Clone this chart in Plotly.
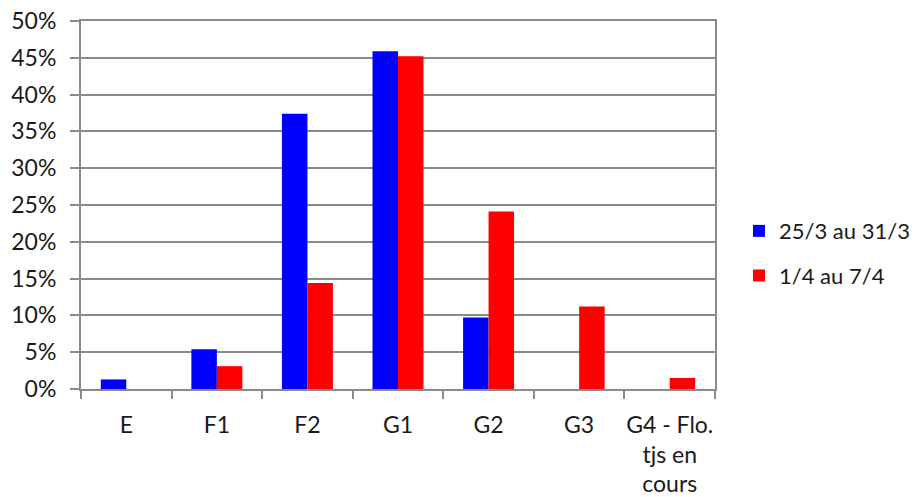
import plotly.graph_objects as go

categories = ["E", "F1", "F2", "G1", "G2", "G3", "G4 - Flo.<br>tjs en<br>cours"]
series1_name = "25/3 au 31/3"
series1_values = [0.013, 0.054, 0.374, 0.459, 0.097, 0.0, 0.0]
series2_name = "1/4 au 7/4"
series2_values = [0.0, 0.031, 0.144, 0.452, 0.241, 0.112, 0.015]
y_tick_values = [0, 0.05, 0.10, 0.15, 0.20, 0.25, 0.30, 0.35, 0.40, 0.45, 0.50]
y_tick_labels = ["0%", "5%", "10%", "15%", "20%", "25%", "30%", "35%", "40%", "45%", "50%"]

FONT = "Lato"
FS = 23
TXT = "#1a1a1a"
GRID = "#8a8a8a"

fig = go.Figure()
fig.add_trace(go.Bar(x=categories, y=series1_values, name=series1_name, legendgroup="a",
                     marker=dict(color="#0000FF", line=dict(width=0))))
fig.add_trace(go.Bar(x=categories, y=series2_values, name=series2_name, legendgroup="b",
                     marker=dict(color="#FF0000", line=dict(width=0))))

fig.update_layout(
    width=920, height=497,
    margin=dict(l=81, r=205, t=21, b=108, autoexpand=False),
    paper_bgcolor="white", plot_bgcolor="white",
    font=dict(family=FONT, size=FS, color=TXT),
    barmode="group", bargap=0.437, bargroupgap=0,
    showlegend=True,
    legend=dict(x=(739 - 81) / 634, xanchor="left", y=0.368, yanchor="middle",
                font=dict(family=FONT, size=22, color=TXT),
                tracegroupgap=13, itemwidth=30),
)
fig.update_xaxes(
    type="category", showgrid=False,
    showline=True, linecolor=GRID, linewidth=2, mirror=True,
    ticks="outside", ticklen=8, tickcolor=GRID, tickwidth=2,
    tickson="boundaries", tickangle=0, ticklabelstandoff=14,
    ticklabeloverflow="allow",
    tickfont=dict(family=FONT, size=FS, color=TXT),
)
fig.update_yaxes(
    range=[0, 0.5], tickvals=y_tick_values, ticktext=y_tick_labels,
    showgrid=True, gridcolor=GRID, gridwidth=2,
    showline=True, linecolor=GRID, linewidth=2, mirror=True,
    ticks="outside", ticklen=9, tickcolor=GRID, tickwidth=2,
    ticklabelstandoff=9, ticklabeloverflow="allow",
    tickfont=dict(family=FONT, size=FS, color=TXT),
    zeroline=False,
)

fig.write_html("out.html", config={"displayModeBar": False},
               post_script="document.body.style.margin='0';")
